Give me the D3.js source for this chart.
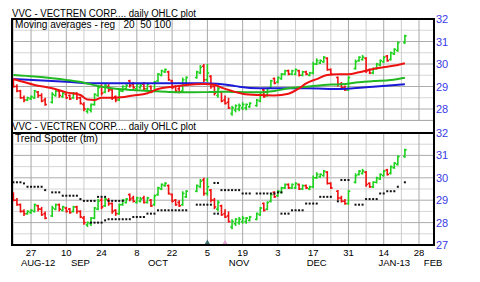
<!DOCTYPE html>
<html><head><meta charset="utf-8">
<script src="https://cdn.jsdelivr.net/npm/d3@7"></script>
<style>body{margin:0;background:#fff}svg{display:block}text{font-family:"Liberation Sans",Arial,sans-serif;white-space:pre}</style>
</head><body><svg id="c" width="480" height="282"></svg>
<script>
// ---------- DATA ----------
const startDate = "2012-08-20";
const endDate = "2013-01-22";
const holidays = ["2012-09-03","2012-10-29","2012-10-30","2012-11-22","2012-12-25","2013-01-01","2013-01-21"];

const open = [29.3,29.0,28.8,28.5,28.4,28.45,28.5,28.75,28.6,28.4,
 28.3,28.6,28.8,28.55,28.65,28.6,28.5,28.7,28.5,28.2,
 27.9,27.95,28.2,28.6,29.0,28.75,29.0,28.85,28.55,28.4,
 28.8,28.9,29.25,29.1,28.9,28.95,29.1,28.9,29.0,28.8,
 29.25,29.5,29.65,29.65,29.25,29.0,28.9,28.8,29.15,
 29.4,29.6,29.9,29.3,29.45,29.0,28.6,28.75,28.4,28.3,
 27.8,27.95,28.0,28.05,28.05,28.1,
 28.15,28.35,28.85,28.6,28.95,29.35,29.2,29.35,29.55,29.7,
 29.55,29.55,29.7,29.5,29.65,29.5,29.6,30.0,30.05,30.1,30.25,29.75,
 29.4,29.1,28.95,28.85,
 29.8,30.15,30.2,30.25,29.75,29.6,29.8,29.95,30.1,30.35,30.2,30.45,30.6,
 30.95];
const high = [29.35,29.1,28.85,28.6,28.55,28.6,28.85,28.8,28.7,28.5,
 28.75,28.85,28.85,28.75,28.7,28.65,28.75,28.75,28.55,28.3,
 28.05,28.25,28.7,29.05,29.1,29.15,29.1,28.9,28.6,28.85,
 29.05,29.1,29.3,29.2,29.15,29.15,29.2,29.15,29.05,29.25,
 29.6,29.75,29.8,29.7,29.3,29.05,29.0,29.4,29.45,
 29.7,29.95,30.0,30.0,29.5,29.1,29.0,28.8,28.6,28.5,
 28.15,28.2,28.25,28.3,28.25,28.3,
 28.45,28.7,28.9,28.95,29.3,29.4,29.45,29.6,29.75,29.75,
 29.75,29.8,29.75,29.7,29.7,29.65,30.1,30.25,30.2,30.35,30.3,29.8,
 29.45,29.2,29.05,29.45,
 30.2,30.35,30.4,30.3,29.8,29.85,30.05,30.2,30.35,30.4,30.55,30.7,31.0,
 31.3];
const low = [28.95,28.75,28.45,28.3,28.35,28.4,28.45,28.5,28.3,28.15,
 28.25,28.55,28.5,28.5,28.45,28.4,28.45,28.4,28.2,27.9,
 27.8,27.85,28.15,28.55,28.6,28.7,28.75,28.4,28.3,28.35,
 28.75,28.85,28.95,28.9,28.85,28.9,28.85,28.85,28.7,28.75,
 29.2,29.45,29.6,29.25,28.9,28.75,28.7,28.75,29.1,
 29.35,29.55,29.2,29.2,28.9,28.6,28.5,28.3,28.2,28.0,
 27.7,27.85,27.9,27.95,27.95,28.05,
 28.1,28.3,28.5,28.55,28.9,29.1,29.15,29.3,29.5,29.5,
 29.5,29.5,29.45,29.45,29.5,29.45,29.55,29.95,30.0,30.05,29.7,29.5,
 29.0,28.9,28.8,28.8,
 29.75,30.1,30.15,29.6,29.55,29.55,29.75,29.9,30.05,30.1,30.15,30.4,30.55,
 30.9];
const close = [29.0,28.8,28.5,28.4,28.5,28.55,28.8,28.6,28.35,28.2,
 28.65,28.8,28.6,28.7,28.5,28.45,28.7,28.5,28.25,28.0,
 28.0,28.2,28.65,28.95,28.7,29.05,28.85,28.5,28.4,28.8,
 29.0,29.05,29.05,28.95,29.1,29.05,28.9,29.1,28.75,29.2,
 29.55,29.7,29.75,29.3,28.95,28.8,28.75,29.3,29.4,
 29.65,29.85,29.3,29.6,29.0,28.7,28.9,28.35,28.25,28.05,
 28.05,28.15,28.15,28.2,28.2,28.25,
 28.4,28.65,28.55,28.9,29.25,29.15,29.4,29.55,29.7,29.55,
 29.7,29.75,29.5,29.65,29.55,29.6,30.0,30.15,30.15,30.3,29.75,29.55,
 29.1,28.95,28.85,29.4,
 30.1,30.3,30.3,29.7,29.6,29.8,30.0,30.15,30.3,30.15,30.5,30.65,30.95,
 31.25];

const N = null;
const tsUpper = [29.8,29.8,29.8,29.75,29.6,29.6,29.6,29.6,29.6,29.45,
 29.35,29.35,29.35,29.2,29.2,29.2,29.2,29.2,29.05,28.97,
 28.97,28.97,28.97,29.15,29.15,29.15,28.97,28.97,28.97,28.97,
 28.97,N,N,N,N,N,N,N,N,N,
 N,N,N,N,N,N,N,N,N,
 N,N,N,N,N,29.77,29.77,29.45,29.45,29.45,
 29.45,29.45,29.45,29.3,29.3,29.3,
 29.3,29.3,29.3,29.3,29.3,29.3,29.35,29.35,N,N,
 N,N,N,N,N,N,N,N,N,N,N,N,
 N,29.9,29.9,29.9,
 N,N,N,N,N,N,N,N,N,N,N,N,N,
 N];
const tsLower = [N,N,N,N,N,N,N,N,N,N,
 N,N,N,N,N,N,N,N,N,N,
 N,28.0,28.0,28.0,28.0,28.1,28.15,28.15,28.15,28.15,
 28.15,28.15,28.15,28.25,28.25,28.25,28.25,28.4,28.4,28.4,
 28.55,28.55,28.55,28.55,28.55,28.55,28.55,28.55,28.55,
 28.8,28.8,28.8,28.8,28.8,28.4,28.4,N,N,N,
 N,N,N,N,N,N,
 N,N,N,N,N,N,N,28.4,28.4,28.4,
 28.55,28.55,28.55,28.55,28.85,28.85,28.85,28.85,29.15,29.15,29.15,29.15,
 28.95,N,N,N,
 28.8,28.8,28.8,29.05,29.05,29.05,29.05,29.3,29.3,29.4,29.4,29.4,29.6,
 29.8];

// moving averages (date, value)
const ma20Dates = ["2012-08-20","2012-08-28","2012-09-04","2012-09-10","2012-09-14","2012-09-18","2012-09-20","2012-09-24","2012-09-28","2012-10-05","2012-10-11","2012-10-16","2012-10-22","2012-10-26","2012-11-02","2012-11-07","2012-11-09","2012-11-14","2012-11-19","2012-11-23","2012-11-30","2012-12-06","2012-12-11","2012-12-13","2012-12-18","2012-12-21","2012-12-26","2012-12-31","2013-01-03","2013-01-09","2013-01-15","2013-01-18","2013-01-22"];
const ma20 = [29.33,29.07,28.92,28.74,28.62,28.42,28.40,28.50,28.50,28.60,28.70,28.89,28.99,29.07,29.11,29.08,28.95,28.80,28.68,28.62,28.60,28.68,28.92,29.14,29.33,29.51,29.54,29.54,29.63,29.78,29.88,29.96,30.03];
const ma50Dates = ["2012-08-20","2012-08-28","2012-09-10","2012-09-17","2012-09-21","2012-09-28","2012-10-05","2012-10-12","2012-10-19","2012-10-25","2012-11-02","2012-11-09","2012-11-14","2012-11-21","2012-11-26","2012-11-30","2012-12-06","2012-12-13","2012-12-20","2012-12-27","2013-01-03","2013-01-09","2013-01-16","2013-01-22"];
const ma50 = [29.51,29.44,29.29,29.17,29.02,28.90,28.84,28.80,28.76,28.74,28.75,28.77,28.76,28.74,28.74,28.80,28.92,28.99,29.07,29.10,29.19,29.24,29.29,29.39];
const ma100Dates = ["2012-08-20","2012-09-10","2012-09-21","2012-10-12","2012-11-02","2012-11-14","2012-11-16","2012-11-26","2012-12-13","2012-12-27","2013-01-09","2013-01-22"];
const ma100 = [29.33,29.21,29.14,29.14,29.14,29.04,28.99,28.92,28.92,28.89,28.99,29.10];

const tickDates = ["2012-08-27","2012-09-10","2012-09-24","2012-10-08","2012-10-22","2012-11-05","2012-11-19","2012-12-03","2012-12-17","2012-12-31","2013-01-14","2013-01-28"];
const monthLabels = ["AUG-12","SEP","OCT","NOV","DEC","JAN-13","FEB"];
const monthLabelDates = ["2012-08-29","2012-09-14","2012-10-16","2012-11-16","2012-12-18","2013-01-17","2013-02-01"];
const priceTicksTop = [32,31,30,29,28];
const priceTicksBottom = [32,31,30,29,28,27];
const eventDates = ["2012-11-05","2012-11-12"];

// ---------- CHART ----------
const parse = d3.timeParse("%Y-%m-%d");
const fmt = d3.timeFormat("%Y-%m-%d");
const t0 = parse(startDate);
const wd = d => { const n = d3.timeDay.count(t0, d); return Math.floor(n/7)*5 + (n%7); };
const days = d3.timeDay.range(t0, d3.timeDay.offset(parse(endDate),1))
  .filter(d => d.getDay()%6 !== 0 && !holidays.includes(fmt(d)));
const bars = days.map((d,i)=>({d, i:wd(d), o:open[i], h:high[i], l:low[i], c:close[i], up:tsUpper[i], lo:tsLower[i]}));

const x = d3.scaleLinear().domain([0,115]).range([13.4,419]);
const yTop = d3.scaleLinear().domain([27.5,32]).range([120.25,19]);
const yBot = d3.scaleLinear().domain([27,32]).range([245,133]);
const L = 12, R = 434;

const svg = d3.select("#c");
svg.append("rect").attr("width",480).attr("height",282).attr("fill","#fff");

const gridVals = d3.range(0,116,5);
function grid(g, y, lo, hi){
  const yy = d3.range(lo, hi+0.01, 0.5);
  g.selectAll(".h").data(yy).join("line")
    .attr("x1",L).attr("x2",R).attr("y1",d=>y(d)).attr("y2",d=>y(d))
    .attr("stroke",d=>Number.isInteger(d)?"#acacac":"#d6d6d6").attr("stroke-width",1);
  g.selectAll(".v").data(gridVals).join("line")
    .attr("x1",d=>x(d)).attr("x2",d=>x(d)).attr("y1",y(hi)).attr("y2",y(lo))
    .attr("stroke",(d,i)=>i%2===1?"#a8a8a8":"#cccccc").attr("stroke-width",1);
}
const gTop = svg.append("g"); grid(gTop, yTop, 27.5, 32);
const gBot = svg.append("g"); grid(gBot, yBot, 27, 32);

const GREEN="#1ed21e", RED="#f01010";
function drawBars(g, y){
  const b = g.selectAll("g.b").data(bars).join("g").attr("stroke",d=>d.c>=d.o?GREEN:RED).attr("stroke-width",1.6);
  b.append("line").attr("x1",d=>x(d.i)).attr("x2",d=>x(d.i)).attr("y1",d=>y(d.h)).attr("y2",d=>y(d.l));
  b.append("line").attr("x1",d=>x(d.i)-1.8).attr("x2",d=>x(d.i)).attr("y1",d=>y(d.o)).attr("y2",d=>y(d.o));
  b.append("line").attr("x1",d=>x(d.i)).attr("x2",d=>x(d.i)+1.8).attr("y1",d=>y(d.c)).attr("y2",d=>y(d.c));
}
drawBars(svg.append("g"), yTop);
drawBars(svg.append("g"), yBot);

// moving averages
const ln = d3.line().x(d=>x(wd(parse(d[0])))).y(d=>yTop(d[1])).curve(d3.curveMonotoneX);
[[ma100Dates,ma100,"#1a1ad6"],[ma50Dates,ma50,"#22b822"],[ma20Dates,ma20,"#ee1111"]].forEach(([ds,vs,c])=>{
  svg.append("path").attr("d",ln(ds.map((d,i)=>[d,vs[i]]))).attr("fill","none").attr("stroke",c).attr("stroke-width",2);
});

// trend spotter dots
const dots = svg.append("g").attr("fill","#111");
dots.selectAll(".u").data(bars.filter(d=>d.up!=null)).join("rect")
  .attr("x",d=>x(d.i)-1).attr("y",d=>yBot(d.up)-1).attr("width",2).attr("height",2);
dots.selectAll(".l").data(bars.filter(d=>d.lo!=null)).join("rect")
  .attr("x",d=>x(d.i)-1).attr("y",d=>yBot(d.lo)-1).attr("width",2).attr("height",2);

// title strip between panels
svg.append("rect").attr("x",L).attr("y",121).attr("width",R-L).attr("height",12).attr("fill","#fff");
svg.append("line").attr("x1",L).attr("x2",R).attr("y1",120.5).attr("y2",120.5).attr("stroke","#acacac");

// frame
svg.append("rect").attr("x",L).attr("y",19).attr("width",R-L).attr("height",226).attr("fill","none").attr("stroke","#000").attr("stroke-width",2);
svg.append("line").attr("x1",L).attr("x2",R).attr("y1",133).attr("y2",133).attr("stroke","#000").attr("stroke-width",2);

// texts
const txt = (s,x0,y0,w,size)=>svg.append("text").attr("x",x0).attr("y",y0).attr("font-size",size||10).attr("fill","#000").attr("textLength",w).attr("lengthAdjust","spacingAndGlyphs").text(s);
txt("VVC - VECTREN CORP.... daily OHLC plot",12,16.5,184);
txt("Moving averages - reg   20  50 100",15,28,156);
txt("VVC - VECTREN CORP.... daily OHLC plot",12,129.5,184);
txt("Trend Spotter (tm)",15,141.5,83);

// right axis
const rt = (vals,y)=>svg.append("g").selectAll("text").data(vals).join("text")
  .attr("x",436).attr("y",d=>y(d)+4).attr("font-size",11).attr("fill","#3a3ae6").text(d=>d);
rt(priceTicksTop,yTop); rt(priceTicksBottom,yBot);

// bottom axis
const dayFmt = d3.timeFormat("%-d");
svg.append("g").selectAll("text").data(tickDates).join("text")
  .attr("x",d=>x(wd(parse(d)))).attr("y",255.5).attr("text-anchor","middle").attr("font-size",9.5).text(d=>dayFmt(parse(d)));
svg.append("g").selectAll("text").data(monthLabels).join("text")
  .attr("x",(d,i)=>x(wd(parse(monthLabelDates[i])))).attr("y",266).attr("text-anchor","middle").attr("font-size",9.5).text(d=>d);

// event markers
const ex0 = x(wd(parse(eventDates[0]))), ex1 = x(wd(parse(eventDates[1])));
svg.append("path").attr("d",`M${ex0-2.5},244 L${ex0},239.5 L${ex0+2.5},244 Z`).attr("fill","#3f6f6f");
svg.append("path").attr("d",`M${ex1-2.5},244 L${ex1},240 L${ex1+2.5},244 Z`).attr("fill","#e6a6d6");
</script></body></html>
